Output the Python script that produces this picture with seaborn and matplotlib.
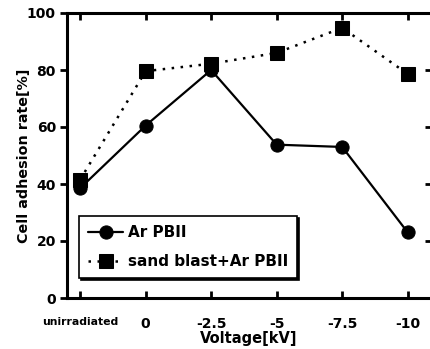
import matplotlib
matplotlib.use("Agg")
import matplotlib.pyplot as plt
import seaborn as sns
import pandas as pd
import numpy as np

categories = ["unirradiated", "0", "-2.5", "-5", "-7.5", "-10"]
ar_pbii = [38.5, 60.5, 80.0, 53.8, 53.0, 23.0]
sand_blast = [41.5, 79.6, 82.2, 86.0, 94.8, 78.6]
series_names = ["Ar PBII", "sand blast+Ar PBII"]
y_ticks = [0, 20, 40, 60, 80, 100]

sns.set_style("ticks")
plt.rcParams['font.family'] = ['DejaVu Sans']
plt.rcParams['font.weight'] = 'bold'
plt.rcParams['text.color'] = 'black'
plt.rcParams['axes.labelcolor'] = 'black'
plt.rcParams['xtick.color'] = 'black'
plt.rcParams['ytick.color'] = 'black'

fig = plt.figure(figsize=(4.30, 3.49), dpi=100)
ax = fig.add_axes([67/430, 1-298/349, (432-67)/430, (298-13)/349])

pos = np.arange(len(categories))
df1 = pd.DataFrame({"x": pos, "y": ar_pbii})
df2 = pd.DataFrame({"x": pos, "y": sand_blast})

sns.lineplot(data=df1, x="x", y="y", ax=ax, color="black", lw=1.6,
             marker="o", markersize=9.5, markeredgecolor="black", label=series_names[0])
sns.lineplot(data=df2, x="x", y="y", ax=ax, color="black", lw=1.8,
             marker="s", markersize=9.5, markeredgecolor="black",
             linestyle=(0, (1, 2.6)), label=series_names[1])

ax.set_xlim(-0.2, 5.37)
ax.set_ylim(0, 100)
ax.set_yticks(y_ticks)
ax.set_yticklabels([str(v) for v in y_ticks], fontsize=10, fontweight='bold', color='black')
ax.set_xticks(pos)
ax.set_xticklabels(categories, fontsize=10, fontweight='bold', color='black')
ax.get_xticklabels()[0].set_fontsize(7.8)

for s in ax.spines.values():
    s.set_linewidth(2.2)
    s.set_color("black")

ax.tick_params(axis='x', direction='in', top=True, bottom=True, length=5, width=2, pad=14, colors='black')
ax.tick_params(axis='y', which='both', left=True, right=False, direction='out', length=5, width=2, pad=3, colors='black')
ax2 = ax.secondary_yaxis('right')
ax2.set_yticks(y_ticks)
ax2.tick_params(direction='in', length=5, width=2, labelright=False, colors='black')
ax2.spines['right'].set_linewidth(2.2)
ax2.spines['right'].set_color('black')

ax.set_xlabel("Voltage[kV]", fontsize=10.5, fontweight='bold', color='black')
ax.xaxis.set_label_coords((249-67)/365, -(331-298)/285)
ax.set_ylabel("Cell adhesion rate[%]", fontsize=10.3, fontweight='bold', color='black')
ax.yaxis.set_label_coords(-(67-31)/365, 0.5)

leg = ax.legend(loc='lower left', bbox_to_anchor=(0.033, 0.07), borderaxespad=0,
                fancybox=False, shadow={'color': 'black', 'alpha': 1, 'ox': 1.5, 'oy': -1.5},
                frameon=True, edgecolor='black', fontsize=11, handlelength=2.3,
                handletextpad=0.3, borderpad=0.6, labelspacing=0.9, framealpha=1)
leg.get_frame().set_linewidth(1.2)
for t in leg.get_texts():
    t.set_fontweight('bold')
    t.set_color('black')

fig.savefig("out.png", dpi=100)
